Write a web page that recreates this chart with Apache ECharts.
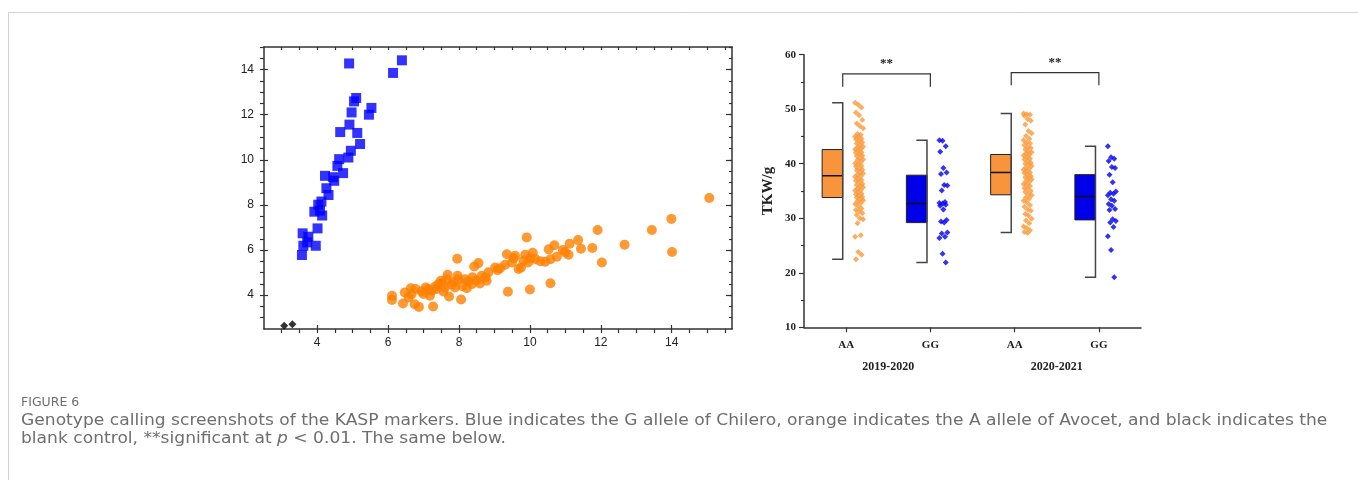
<!DOCTYPE html>
<html>
<head>
<meta charset="utf-8">
<script src="https://cdn.jsdelivr.net/npm/echarts@6/dist/echarts.min.js"></script>
<style>
html,body{margin:0;padding:0;background:#fff;}
#chart{width:1358px;height:480px;}
</style>
</head>
<body>
<div id="chart"></div>
<script>
// ---------- Left panel: KASP genotype calling ----------
const KASP_X_TICKS = [4, 6, 8, 10, 12, 14];
const KASP_Y_TICKS = [4, 6, 8, 10, 12, 14];
const KASP_BLUE_G = [[4.90,14.27],[6.39,14.41],[6.14,13.85],[5.10,12.74],[5.04,12.59],[5.53,12.30],[5.46,12.00],[4.97,12.10],[4.91,11.56],[4.65,11.23],[5.13,11.19],[5.21,10.70],[4.95,10.40],[4.88,10.10],[4.62,10.03],[4.57,9.73],[4.73,9.41],[4.22,9.29],[4.45,9.23],[4.48,9.07],[4.26,8.74],[4.32,8.44],[4.12,8.15],[4.03,8.01],[3.92,7.70],[4.08,7.75],[4.14,7.53],[4.01,6.96],[3.59,6.74],[3.75,6.59],[3.72,6.34],[3.61,6.19],[3.96,6.19],[3.57,5.78]];
const KASP_ORANGE_A = [[15.06,8.31],[13.99,7.38],[13.44,6.89],[14.01,5.91],[12.67,6.24],[11.91,6.89],[12.03,5.45],[11.76,6.09],[11.36,6.44],[11.44,6.06],[11.12,6.28],[11.09,5.79],[10.93,6.00],[10.76,5.70],[10.69,6.21],[10.53,6.03],[10.58,5.59],[10.43,5.48],[10.29,5.50],[10.08,5.88],[10.01,5.64],[9.91,6.56],[9.87,5.79],[9.82,5.53],[9.58,5.75],[9.49,5.45],[9.68,5.16],[9.35,5.81],[9.38,4.15],[10.00,4.25],[10.58,4.53],[9.09,5.11],[9.02,5.23],[8.83,5.01],[8.74,4.79],[8.64,4.86],[8.55,5.42],[8.43,5.27],[8.59,4.52],[8.36,4.49],[8.26,4.61],[8.22,4.31],[8.06,3.81],[7.98,4.71],[7.95,5.61],[7.89,4.34],[7.79,4.46],[7.72,3.94],[7.68,4.90],[7.60,4.34],[7.49,4.64],[7.42,4.49],[7.32,4.37],[7.27,3.50],[7.18,3.97],[7.13,4.27],[7.06,4.34],[6.94,4.16],[6.87,3.48],[6.75,3.60],[6.77,4.27],[6.66,4.04],[6.64,4.31],[6.47,4.12],[6.42,3.63],[6.11,3.97],[6.11,3.79],[7.56,4.16],[7.37,4.27],[7.23,4.19],[7.96,4.86],[8.17,4.71],[8.38,4.79],[8.78,4.64],[9.16,5.19],[9.54,5.64],[9.75,5.23],[9.95,5.45],[10.15,5.60],[10.99,5.90],[7.52,4.52],[7.85,4.58],[8.10,4.40],[7.00,4.05],[6.58,3.90],[7.65,4.70],[8.48,4.65],[9.30,5.35]];
const KASP_BLACK_NTC = [[3.07,2.64],[3.30,2.71]];

// ---------- Right panel: TKW by genotype ----------
const BOX_CATEGORIES = ['AA', 'GG', 'AA', 'GG'];
const SEASONS = ['2019-2020', '2020-2021'];
const TKW_TICKS = [10, 20, 30, 40, 50, 60];
const BOX_MIN = [22.5, 21.9, 27.4, 19.2];
const BOX_Q1  = [33.8, 29.2, 34.3, 29.7];
const BOX_MED = [37.8, 32.7, 38.4, 34.0];
const BOX_Q3  = [42.6, 37.9, 41.7, 38.0];
const BOX_MAX = [51.2, 44.3, 49.2, 43.2];
const TKW_AA_2019 = [51.2,50.8,50.3,49.4,48.9,48.0,47.4,46.9,46.5,45.5,45.3,45.0,44.9,44.6,44.5,44.2,43.9,43.7,43.4,43.1,43.0,42.7,42.6,42.4,42.1,42.0,41.7,41.5,41.4,41.0,40.8,40.7,40.3,40.1,39.9,39.6,39.5,39.1,38.9,38.8,38.4,38.2,38.0,37.7,37.6,37.2,37.0,36.9,36.6,36.3,36.1,35.9,35.7,35.4,35.2,35.1,34.8,34.5,34.4,34.1,33.9,33.8,33.5,33.3,33.1,32.8,32.6,32.2,31.8,31.5,31.3,30.9,30.6,30.0,29.8,29.1,26.9,26.6,23.8,23.3,22.5];
const TKW_GG_2019 = [44.3,44.2,43.2,42.2,39.2,38.4,38.1,36.1,36.0,35.1,33.0,32.8,32.7,32.5,32.3,31.6,29.7,29.4,29.2,27.4,27.2,26.6,26.4,23.5,21.9];
const TKW_AA_2020 = [49.2,49.1,49.0,48.8,48.2,47.9,47.2,46.0,45.6,45.1,44.6,44.3,43.9,43.7,43.4,43.0,42.9,42.6,42.2,42.1,41.9,41.6,41.5,41.2,40.9,40.8,40.5,40.2,40.0,39.9,39.6,39.3,39.1,38.9,38.6,38.4,38.3,38.0,37.7,37.5,37.4,37.1,36.8,36.7,36.3,36.1,35.9,35.5,35.4,35.0,34.8,34.4,34.2,33.8,33.6,33.2,32.9,32.4,32.1,31.6,31.4,30.8,30.5,29.9,29.6,29.1,28.5,28.2,27.8,27.5,27.3];
const TKW_GG_2020 = [43.2,41.2,40.9,40.5,39.4,39.2,38.0,36.6,34.9,34.7,34.5,34.2,33.5,33.2,32.6,32.3,31.7,31.5,29.8,29.5,29.2,28.4,26.7,24.2,19.2];
const TKW_POINTS = [TKW_AA_2019, TKW_GG_2019, TKW_AA_2020, TKW_GG_2020];
// significance brackets: [from category, to category, bracket top, leg bottom]
const SIG_BRACKETS = [[0, 1, 56.5, 54.1], [2, 3, 56.7, 54.4]];
const SIG_LABEL = '**';

// ---------- build ----------
const ORANGE_BOX = '#F7943C';
const BLUE_BOX = '#0000E8';
const ORANGE_PT = '#FA9838';
const BLUE_PT = '#0000F0';
const CAPTION_GRAY = '#6e6e6e';
const CAPTION_FONT = 'DejaVu Sans, sans-serif';
const CAPTION_STRETCH = 1.104;
const isAA = i => i % 2 === 0;

const boxData = BOX_CATEGORIES.map((c, i) => [i, BOX_MIN[i], BOX_Q1[i], BOX_MED[i], BOX_Q3[i], BOX_MAX[i]]);

function halfSteps(a, b) { const r = []; for (let v = a; v <= b + 1e-9; v += 0.5) r.push(+v.toFixed(2)); return r; }
const X_MINOR = halfSteps(3, 15.5);
const Y_MINOR = halfSteps(3, 15);

const pointSeries = TKW_POINTS.map((arr, g) => ({
  type: 'scatter',
  xAxisIndex: 3, yAxisIndex: 4,
  symbol: 'diamond',
  symbolSize: 6,
  z: 4,
  itemStyle: { color: isAA(g) ? ORANGE_PT : BLUE_PT },
  data: arr.map((v, i) => ({
    value: [g, v],
    symbolOffset: [13 + (((i * 37) % 11) / 10 - 0.5) * 8, 0]
  }))
}));

const labelFont = { fontFamily: 'Liberation Sans, Arial, sans-serif', fontSize: 12, color: '#222' };
const serifBold = { fontFamily: 'Liberation Serif, Times New Roman, serif', fontWeight: 'bold', color: '#222' };
const frameLine = { show: true, lineStyle: { color: '#333', width: 1.5 } };

const option = {
  animation: false,
  backgroundColor: '#fff',
  grid: [
    { left: 264, top: 47, width: 468, height: 282, outerBoundsMode: 'none', containLabel: false },
    { left: 804, top: 54.7, width: 337, height: 272.6, outerBoundsMode: 'none', containLabel: false }
  ],
  xAxis: [
    { gridIndex: 0, type: 'value', position: 'bottom', min: 2.5, max: 15.7, interval: 0.5,
      axisLine: frameLine, splitLine: { show: false },
      axisTick: { show: true, inside: false, length: 4, customValues: X_MINOR, lineStyle: { color: '#333', width: 1.2 } },
      axisLabel: Object.assign({ customValues: KASP_X_TICKS, margin: 8 }, labelFont) },
    { gridIndex: 0, type: 'value', position: 'bottom', min: 2.5, max: 15.7, interval: 0.5,
      axisLine: { show: false }, splitLine: { show: false }, axisLabel: { show: false },
      axisTick: { show: true, inside: true, length: 4, customValues: KASP_X_TICKS, lineStyle: { color: '#333', width: 1.2 } } },
    { gridIndex: 0, type: 'value', position: 'top', min: 2.5, max: 15.7, interval: 0.5,
      axisLine: frameLine, splitLine: { show: false }, axisLabel: { show: false },
      axisTick: { show: true, inside: true, length: 3, customValues: X_MINOR, lineStyle: { color: '#333', width: 1.2 } } },
    { gridIndex: 1, type: 'category', data: BOX_CATEGORIES, position: 'bottom', boundaryGap: true,
      axisLine: { show: true, lineStyle: { color: '#333', width: 1.5 } },
      axisTick: { show: true, alignWithLabel: true, length: 5, lineStyle: { color: '#333', width: 1.2 } },
      axisLabel: Object.assign({ fontSize: 11, margin: 12 }, serifBold) },
    { gridIndex: 1, type: 'category', data: SEASONS, position: 'bottom', boundaryGap: true,
      axisLine: { show: false }, axisTick: { show: false },
      axisLabel: Object.assign({ fontSize: 12, margin: 34 }, serifBold) }
  ],
  yAxis: [
    { gridIndex: 0, type: 'value', position: 'left', min: 2.5, max: 15, interval: 0.5,
      axisLine: frameLine, splitLine: { show: false },
      axisTick: { show: true, inside: false, length: 4, customValues: Y_MINOR, lineStyle: { color: '#333', width: 1.2 } },
      axisLabel: Object.assign({ customValues: KASP_Y_TICKS, margin: 10 }, labelFont) },
    { gridIndex: 0, type: 'value', position: 'left', min: 2.5, max: 15, interval: 0.5,
      axisLine: { show: false }, splitLine: { show: false }, axisLabel: { show: false },
      axisTick: { show: true, inside: true, length: 4, customValues: KASP_Y_TICKS, lineStyle: { color: '#333', width: 1.2 } } },
    { gridIndex: 0, type: 'value', position: 'right', min: 2.5, max: 15, interval: 0.5,
      axisLine: frameLine, splitLine: { show: false }, axisLabel: { show: false },
      axisTick: { show: true, inside: true, length: 3, customValues: Y_MINOR, lineStyle: { color: '#333', width: 1.2 } } },
    { gridIndex: 0, type: 'value', position: 'right', min: 2.5, max: 15, interval: 0.5,
      axisLine: { show: false }, splitLine: { show: false }, axisLabel: { show: false },
      axisTick: { show: true, inside: true, length: 6, customValues: KASP_Y_TICKS, lineStyle: { color: '#333', width: 1.2 } } },
    { gridIndex: 1, type: 'value', position: 'left', min: 10, max: 60, interval: 10,
      name: 'TKW/g', nameLocation: 'middle', nameRotate: 90, nameGap: 28,
      nameTextStyle: Object.assign({ fontSize: 15 }, serifBold),
      axisLine: { show: true, lineStyle: { color: '#333', width: 1.5 } },
      splitLine: { show: false },
      axisTick: { show: true, inside: false, length: 5, lineStyle: { color: '#333', width: 1.2 } },
      minorTick: { show: true, splitNumber: 2, length: 3, lineStyle: { color: '#333', width: 1.2 } },
      axisLabel: Object.assign({ customValues: TKW_TICKS, fontSize: 11, margin: 8 }, serifBold) }
  ],
  series: [
    { type: 'scatter', xAxisIndex: 0, yAxisIndex: 0, symbol: 'rect', symbolSize: 10,
      itemStyle: { color: '#0000FF' }, data: KASP_BLUE_G },
    { type: 'scatter', xAxisIndex: 0, yAxisIndex: 0, symbol: 'circle', symbolSize: 10,
      itemStyle: { color: '#FF8000' }, data: KASP_ORANGE_A },
    { type: 'scatter', xAxisIndex: 0, yAxisIndex: 0, symbol: 'diamond', symbolSize: 8,
      itemStyle: { color: '#000' }, data: KASP_BLACK_NTC },
    { type: 'custom', xAxisIndex: 3, yAxisIndex: 4, z: 3,
      encode: { x: 0, y: [1, 2, 3, 4, 5] },
      data: boxData,
      renderItem: function (params, api) {
        const c = api.value(0);
        const pMin = api.coord([c, api.value(1)]);
        const pQ1 = api.coord([c, api.value(2)]);
        const pMed = api.coord([c, api.value(3)]);
        const pQ3 = api.coord([c, api.value(4)]);
        const pMax = api.coord([c, api.value(5)]);
        const xc = pMin[0];
        const bl = xc - 24, br = xc - 3.4, cap = 10.6;
        return { type: 'group', children: [
          { type: 'rect', shape: { x: bl, y: pQ3[1], width: br - bl, height: pQ1[1] - pQ3[1] },
            style: { fill: isAA(c) ? ORANGE_BOX : BLUE_BOX, stroke: '#222', lineWidth: 1 } },
          { type: 'line', shape: { x1: bl, y1: pMed[1], x2: br, y2: pMed[1] },
            style: { stroke: '#111', lineWidth: 1.5 } },
          { type: 'polyline', shape: { points: [[br - cap, pMax[1]], [br, pMax[1]], [br, pMin[1]], [br - cap, pMin[1]]] },
            style: { stroke: '#444', lineWidth: 1.5, fill: null } }
        ] };
      }
    },
    { type: 'custom', xAxisIndex: 3, yAxisIndex: 4, z: 3,
      encode: { x: [0, 1], y: [2, 3] },
      data: SIG_BRACKETS,
      renderItem: function (params, api) {
        const a = api.value(0), b = api.value(1), top = api.value(2), leg = api.value(3);
        const pl = api.coord([a, top]);
        const pr = api.coord([b, top]);
        const pLeg = api.coord([a, leg]);
        const xl = pl[0] - 3.4, xr = pr[0];
        return { type: 'group', children: [
          { type: 'polyline', shape: { points: [[xl, pLeg[1]], [xl, pl[1]], [xr, pl[1]], [xr, pLeg[1]]] },
            style: { stroke: '#333', lineWidth: 1.2, fill: null } },
          { type: 'text', x: (xl + xr) / 2, y: pl[1] - 4,
            style: { text: SIG_LABEL, textAlign: 'center', textVerticalAlign: 'bottom',
              fontFamily: 'Liberation Serif, serif', fontWeight: 'bold', fontSize: 13, fill: '#222' } }
        ] };
      }
    }
  ].concat(pointSeries),
  graphic: [
    { type: 'line', shape: { x1: 8.5, y1: 12.5, x2: 1358, y2: 12.5 }, style: { stroke: '#d3d3d3', lineWidth: 1 }, silent: true },
    { type: 'line', shape: { x1: 8.5, y1: 12.5, x2: 8.5, y2: 480 }, style: { stroke: '#d3d3d3', lineWidth: 1 }, silent: true },
    { type: 'text', x: 21, y: 396, silent: true,
      style: { text: 'FIGURE 6', fontFamily: CAPTION_FONT, fontSize: 12.5, fill: CAPTION_GRAY } },
    { type: 'text', x: 21, y: 413, scaleX: CAPTION_STRETCH, silent: true,
      style: { text: 'Genotype calling screenshots of the KASP markers. Blue indicates the G allele of Chilero, orange indicates the A allele of Avocet, and black indicates the',
        fontFamily: CAPTION_FONT, fontSize: 15.5, fill: CAPTION_GRAY } },
    { type: 'text', x: 21, y: 431, scaleX: CAPTION_STRETCH, silent: true,
      style: { text: '{a|blank control, **significant at }{i|p}{a| < 0.01. The same below.}',
        rich: {
          a: { fontFamily: CAPTION_FONT, fontSize: 15.5, fill: CAPTION_GRAY, color: CAPTION_GRAY },
          i: { fontFamily: CAPTION_FONT, fontSize: 15.5, fontStyle: 'italic', fill: CAPTION_GRAY, color: CAPTION_GRAY }
        } } }
  ]
};

const chart = echarts.init(document.getElementById('chart'), null, { renderer: 'canvas' });
chart.setOption(option);
</script>
</body>
</html>
